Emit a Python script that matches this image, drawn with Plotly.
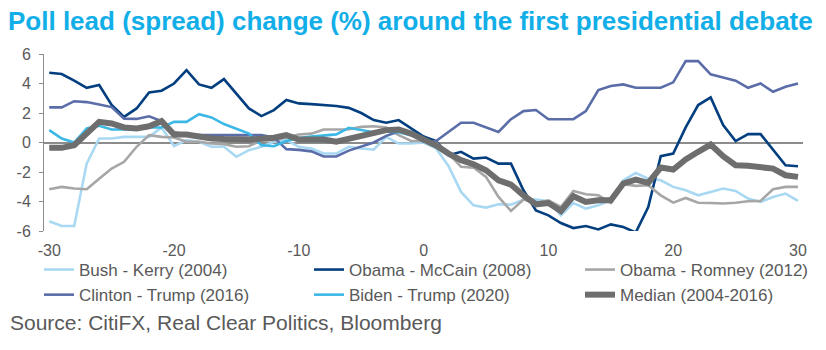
import plotly.graph_objects as go

days = list(range(-30, 31))

bush_kerry = [-5.34, -5.66, -5.66, -1.43, 0.27, 0.27, 0.38, 0.38, 0.38, 1.02,
              -0.25, 0.16, 0.05, -0.29, -0.29, -0.97, -0.52, -0.29, 0.05, 0.16,
              -0.29, -0.41, -0.75, -0.75, -0.29, -0.41, -0.48, 0.38, -0.07, -0.07,
              0.0,
              -0.4, -1.6, -3.35, -4.26, -4.41, -4.19, -4.21, -3.87, -3.87, -3.98,
              -4.94, -4.1, -4.48, -4.26, -3.92, -2.56, -2.06, -2.45, -2.56, -3.01,
              -3.24, -3.58, -3.35, -3.12, -3.28, -3.8, -4.03, -3.69, -3.46, -3.96]

obama_mccain = [4.73, 4.64, 4.2, 3.71, 3.9, 2.54, 1.74, 2.31, 3.4, 3.51,
                4.0, 4.91, 3.94, 3.71, 4.3, 3.33, 2.31, 1.79, 2.2, 2.88,
                2.65, 2.6, 2.54, 2.47, 2.35, 2.0, 1.52, 1.34, 1.52, 0.95,
                0.4,
                0.1, -0.86, -0.63, -1.09, -1.02, -1.43, -1.43, -3.24, -4.6, -4.94,
                -5.46, -5.8, -5.66, -5.89, -5.55, -5.73, -6.1, -4.37, -0.93, -0.75,
                1.02, 2.54, 3.06, 1.18, 0.09, 0.57, 0.57, -0.48, -1.54, -1.61]

obama_romney = [-3.17, -3.01, -3.12, -3.17, -2.45, -1.77, -1.31, -0.29, 0.5, 0.38,
                0.34, 0.05, 0.05, -0.07, -0.11, -0.29, -0.25, 0.16, 0.16, 0.34,
                0.54, 0.6, 0.88, 0.88, 0.9, 1.06, 1.1, 1.02, 0.5, 0.1,
                0.1,
                0.0, -0.75, -1.65, -1.7, -2.33, -3.69, -4.64, -3.87, -4.1, -3.92,
                -4.37, -3.28, -3.51, -3.58, -4.1, -2.83, -2.94, -2.9, -3.58, -4.08,
                -3.76, -4.08, -4.1, -4.14, -4.08, -3.98, -3.96, -3.17, -3.01, -3.01]

clinton_trump = [2.38, 2.38, 2.8, 2.74, 2.58, 2.4, 1.62, 1.6, 1.78, 1.45,
                 0.7, 0.55, 0.5, 0.5, 0.5, 0.55, 0.55, 0.5, 0.35, -0.45,
                 -0.5, -0.6, -0.95, -0.95, -0.55, -0.25, 0.0, 0.45, 0.75, 0.6,
                 0.05,
                 0.1, 0.72, 1.34, 1.34, 1.02, 0.72, 1.58, 2.13, 2.2, 1.58,
                 1.58, 1.58, 2.13, 3.55, 3.83, 3.94, 3.71, 3.71, 3.71, 4.08,
                 5.52, 5.52, 4.62, 4.41, 4.19, 3.71, 4.0, 3.44, 3.78, 4.0]

biden_trump = [0.84, 0.27, 0.0, 0.95, 1.13, 0.88, 0.88, 0.88, 1.02, 1.02,
               1.4, 1.4, 1.92, 1.7, 1.25, 0.95, 0.6, -0.18, -0.25, 0.1,
               0.3, 0.4, 0.45, 0.55, 1.0, 0.85, 0.7, 0.75, 0.7, 0.5,
               0.1] + [None] * 30

median = [-0.36, -0.36, -0.18, 0.6, 1.4, 1.29, 1.02, 0.95, 1.1, 1.45,
          0.54, 0.54, 0.38, 0.27, 0.23, 0.18, 0.2, 0.25, 0.32, 0.5,
          0.2, 0.2, 0.2, 0.05, 0.25, 0.45, 0.6, 0.84, 0.88, 0.6,
          0.2,
          -0.2, -0.75, -1.2, -1.47, -1.88, -2.56, -2.85, -3.58, -4.19, -4.1,
          -4.64, -3.64, -4.03, -3.92, -3.92, -2.78, -2.51, -2.74, -1.7, -1.83,
          -1.15, -0.63, -0.14, -0.93, -1.54, -1.58, -1.65, -1.77, -2.22, -2.33]

# (name, values, colour, width, legend column)
series = [
    ("Bush - Kerry (2004)", bush_kerry, "#A9D9F2", 2.6, "legend"),
    ("Obama - McCain (2008)", obama_mccain, "#033F7F", 2.6, "legend2"),
    ("Obama - Romney (2012)", obama_romney, "#A6A6A6", 2.6, "legend3"),
    ("Clinton - Trump (2016)", clinton_trump, "#5A6DA8", 2.6, "legend"),
    ("Biden - Trump (2020)", biden_trump, "#3DB8E6", 2.6, "legend2"),
    ("Median (2004-2016)", median, "#6E6E6E", 6, "legend3"),
]

x_ticks = [-30, -20, -10, 0, 10, 20, 30]
y_ticks = [-6, -4, -2, 0, 2, 4, 6]

FONT = "Liberation Sans, Arial, sans-serif"
GRAY = "#595959"

fig = go.Figure()
for name, vals, color, width, leg in series:
    fig.add_trace(go.Scatter(x=days, y=vals, mode="lines", name=name,
                             line=dict(color=color, width=width),
                             legend=leg, legendgroup=name,
                             connectgaps=False))

def legend_at(xpx):
    return dict(orientation="v", xref="container", yref="container",
                x=xpx/826, xanchor="left", y=1 - 252/350, yanchor="top",
                font=dict(family=FONT, size=17, color=GRAY),
                itemwidth=30, tracegroupgap=0, bgcolor="rgba(0,0,0,0)")

fig.update_layout(
    width=826, height=350,
    margin=dict(l=44, r=23, t=54, b=119, autoexpand=False),
    paper_bgcolor="white", plot_bgcolor="white",
    font=dict(family=FONT, color=GRAY, size=16),
    title=dict(text="<b>Poll lead (spread) change (%) around the first presidential debate</b>",
               x=8/826, xanchor="left", xref="container",
               y=1 - 21/350, yanchor="middle", yref="container",
               font=dict(family=FONT, size=26, color="#12AEE8")),
    showlegend=True,
    legend=legend_at(39),
    legend2=legend_at(309),
    legend3=legend_at(580),
    annotations=[dict(text="Source: CitiFX, Real Clear Politics, Bloomberg",
                      xref="paper", yref="paper",
                      x=-36/759, xanchor="left",
                      y=-(322 - 231)/177, yanchor="middle",
                      showarrow=False,
                      font=dict(family=FONT, size=21, color=GRAY))],
)

fig.update_xaxes(range=[-30.42, 30.4], tickvals=x_ticks,
                 ticktext=[str(v) for v in x_ticks], automargin=False,
                 showgrid=False, zeroline=False, showline=False,
                 ticks="", ticklabelstandoff=8,
                 tickfont=dict(size=16, color=GRAY))
fig.update_yaxes(range=[-6, 6], tickvals=y_ticks,
                 ticktext=[str(v) for v in y_ticks], automargin=False,
                 showgrid=False, zeroline=True, zerolinecolor="#8C8C8C",
                 zerolinewidth=1.5, showline=True, linecolor="#8C8C8C",
                 linewidth=1, ticks="outside", ticklen=4, tickcolor="#8C8C8C",
                 ticklabelstandoff=5,
                 tickfont=dict(size=16, color=GRAY))

fig.write_html("out.html")
